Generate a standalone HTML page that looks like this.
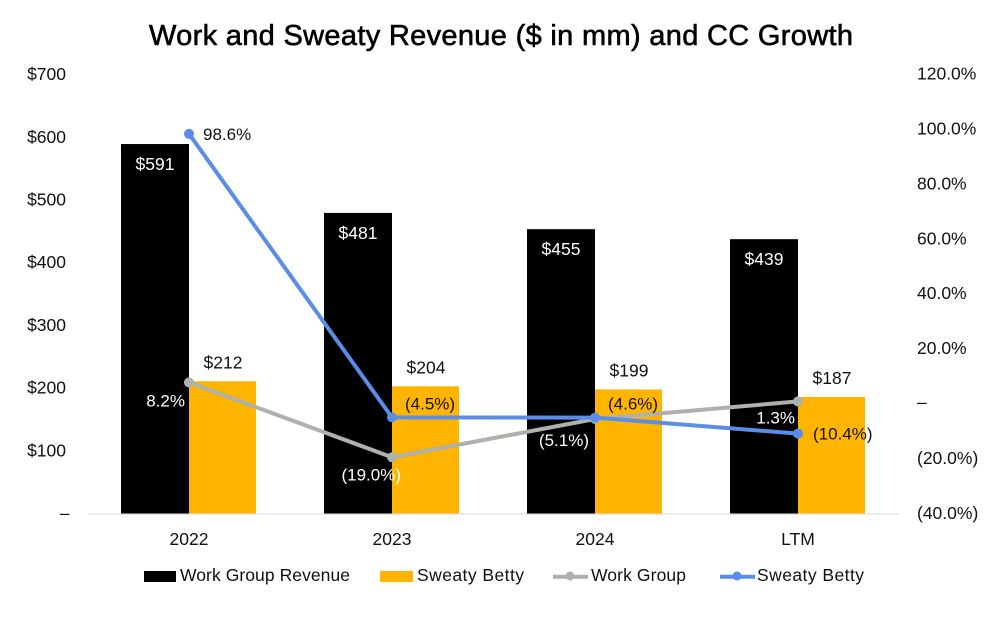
<!DOCTYPE html>
<html>
<head>
<meta charset="utf-8">
<style>
html,body{margin:0;padding:0;background:#fff;}
svg{display:block;}
text{font-family:"Liberation Sans",sans-serif;font-size:17.5px;letter-spacing:0;fill:#111;stroke:currentColor;stroke-width:0;}
</style>
</head>
<body>
<svg id="chart" width="998" height="620" viewBox="0 0 998 620" xmlns="http://www.w3.org/2000/svg">
<rect width="998" height="620" fill="#fff"/>
<text x="149" y="45" textLength="704" lengthAdjust="spacing" style="font-size:29px;stroke:#000;stroke-width:.6px;fill:#000;letter-spacing:0">Work and Sweaty Revenue ($ in mm) and CC Growth</text>
<g id="marks"></g>
<g>
<g>
<rect x="144" y="571" width="32" height="11" fill="#000"/>
<text x="180" y="581" textLength="170" lengthAdjust="spacing">Work Group Revenue</text>
</g>
<g>
<rect x="380" y="571" width="33" height="11" fill="#FFB500"/>
<text x="417" y="581" textLength="107" lengthAdjust="spacing">Sweaty Betty</text>
</g>
<g>
<line x1="553" y1="576.7" x2="588" y2="576.7" stroke="#AFB1AC" stroke-width="4"/>
<circle cx="570" cy="576" r="4.5" fill="#AFB1AC"/>
<text x="591" y="581" textLength="95" lengthAdjust="spacing">Work Group</text>
</g>
<g>
<line x1="720" y1="576.7" x2="755" y2="576.7" stroke="#5B8DE8" stroke-width="4"/>
<circle cx="737" cy="576" r="4.5" fill="#5B8DE8"/>
<text x="757" y="581" textLength="107" lengthAdjust="spacing">Sweaty Betty</text>
</g>
</g>
</svg>
<script>
var categories = ["2022", "2023", "2024", "LTM"];
var workRevenue = [591, 481, 455, 439];
var sweatyRevenue = [212, 204, 199, 187];
var workGrowth = [8.2, -19.0, -5.1, 1.3];
var sweatyGrowth = [98.6, -4.5, -4.6, -10.4];
var leftTicks = [0, 100, 200, 300, 400, 500, 600, 700];
var rightTicks = [-40, -20, 0, 20, 40, 60, 80, 100, 120];

var BASE = 514;
var root = document.getElementById('marks');
var NS = 'http://www.w3.org/2000/svg';

function xCat(i) { return 189 + i * 203; }
function yLeft(v) { return BASE - v * 0.626; }
function yRight(v) { return 405 - v * 2.75; }
function yLeftTick(v) { return 513 - v * 0.627; }
function yRightTick(v) { return 403 - v * 2.745; }
function fmtMoney(v) { return v === 0 ? '–' : '$' + v; }
function fmtPct(v) {
  if (v === 0) return '–';
  var s = Math.abs(v).toFixed(1) + '%';
  return v < 0 ? '(' + s + ')' : s;
}
function make(tag, attrs, parent) {
  var el = document.createElementNS(NS, tag);
  for (var k in attrs) el.setAttribute(k, attrs[k]);
  (parent || root).appendChild(el);
  return el;
}
function label(str, x, y, anchor, color, name, parent) {
  var t = make('text', { x: x, y: y, 'text-anchor': anchor }, parent);
  t.style.fill = color;
  t.textContent = str;
  
  
  return t;
}

var el;

/* axis tick labels */
leftTicks.forEach(function (v) {
  label(fmtMoney(v), v === 0 ? 69.5 : 66, yLeftTick(v) + 6, 'end', '#111', 'left-axis-tick');
});
rightTicks.forEach(function (v) {
  label(fmtPct(v), 917, yRightTick(v) + (v === 0 ? 5 : 6), 'start', '#111', 'right-axis-tick');
});

/* bars */
categories.forEach(function (c, i) {
  var x = xCat(i);
  el = make('rect', { x: x - 68, y: yLeft(workRevenue[i]), width: 68, height: BASE - yLeft(workRevenue[i]), fill: '#000' });
  
  
  el = make('rect', { x: x, y: yLeft(sweatyRevenue[i]), width: 67, height: BASE - yLeft(sweatyRevenue[i]), fill: '#FFB500' });
  
  
});

/* category axis */
el = make('line', { x1: 88, x2: 899, y1: BASE, y2: BASE, stroke: '#d9d9d9', 'stroke-width': 1 });


categories.forEach(function (c, i) {
  label(c, xCat(i), 545, 'middle', '#111', 'x-axis-label');
});

/* bar value labels */
categories.forEach(function (c, i) {
  label('$' + workRevenue[i], xCat(i) - 34, yLeft(workRevenue[i]) + 26, 'middle', '#fff', 'value-label-work-group');
  label('$' + sweatyRevenue[i], xCat(i) + 34, yLeft(sweatyRevenue[i]) - 13, 'middle', '#111', 'value-label-sweaty-betty');
});

/* growth lines */
function drawLine(values, color, name) {
  var pts = values.map(function (v, i) { return xCat(i) + ',' + yRight(v); }).join(' ');
  el = make('polyline', { points: pts, fill: 'none', stroke: color, 'stroke-width': 4, 'stroke-linejoin': 'round' });
  
  
  values.forEach(function (v, i) {
    el = make('circle', { cx: xCat(i), cy: yRight(v), r: 5, fill: color });
    
    
  });
}
drawLine(workGrowth, '#AFB1AC', 'work-group');
drawLine(sweatyGrowth, '#5B8DE8', 'sweaty-betty');

/* growth value labels: anchored beside each point */
var workDx = [-4, 9, -6, -3];
var workDy = [24, 23, 27, 22];
workGrowth.forEach(function (v, i) {
  var t = label(fmtPct(v), xCat(i) + workDx[i], yRight(v) + workDy[i], 'end', '#fff', 'growth-label-work-group');
  t.style.fontSize = '17px';
});
var sweatyDx = [14, 13, 13, 15];
var sweatyDy = [6, -8, -8, 6];
sweatyGrowth.forEach(function (v, i) {
  var t = label(fmtPct(v), xCat(i) + sweatyDx[i], yRight(v) + sweatyDy[i], 'start', '#111', 'growth-label-sweaty-betty');
  t.style.fontSize = '17px';
});
</script>
</body>
</html>
